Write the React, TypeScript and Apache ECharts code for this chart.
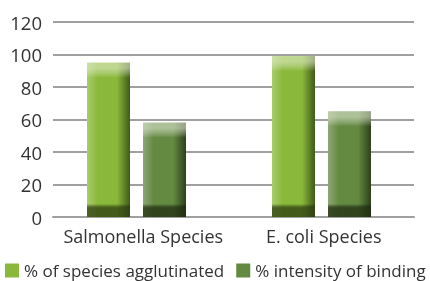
import React, { useEffect, useRef } from "react";
import * as echarts from "echarts";

const categories = ["Salmonella Species", "E. coli Species"];
const agglutinated = [95, 99];
const binding = [58, 65];
const yTicks = { min: 0, max: 120, interval: 20 };

const FONT = "'Open Sans', sans-serif";
const groupShift = [6.75, 2.25];

function makeRender(seriesIdx: number, colors: { l: string; m: string; r: string; cap: string; base: string }) {
  return (params: any, api: any) => {
    const idx = api.value(0);
    const val = api.value(1);
    const top = api.coord([idx, val]);
    const base = api.coord([idx, 0]);
    const bw = 43;
    const gap = 13;
    const cx = top[0] - groupShift[idx];
    const x = seriesIdx === 0 ? cx - gap / 2 - bw : cx + gap / 2;
    const h = base[1] - top[1];
    return {
      type: "group",
      children: [
        {
          type: "rect",
          shape: { x, y: top[1], width: bw, height: h },
          style: {
            fill: new echarts.graphic.LinearGradient(0, 0, 1, 0, [
              { offset: 0, color: colors.l },
              { offset: 0.25, color: colors.m },
              { offset: 0.7, color: colors.m },
              { offset: 1, color: colors.r },
            ]),
          },
        },
        {
          type: "rect",
          shape: { x, y: top[1], width: bw, height: 15 },
          style: {
            fill: new echarts.graphic.LinearGradient(0, 0, 0, 1, [
              { offset: 0, color: colors.cap },
              { offset: 0.35, color: colors.cap },
              { offset: 1, color: "rgba(255,255,255,0)" },
            ]),
            opacity: 0.6,
          },
        },
        {
          type: "rect",
          shape: { x, y: base[1] - 13, width: bw, height: 13 },
          style: {
            fill: new echarts.graphic.LinearGradient(0, 0, 0, 1, [
              { offset: 0, color: "rgba(0,0,0,0)" },
              { offset: 0.3, color: colors.base },
              { offset: 1, color: colors.base },
            ]),
            opacity: 0.75,
          },
        },
      ],
    };
  };
}

export default function App() {
  const ref = useRef<HTMLDivElement>(null);
  useEffect(() => {
    if (!ref.current) return;
    const chart = echarts.init(ref.current, undefined, { renderer: "svg" });
    chart.setOption({
      animation: false,
      grid: { left: 53, right: 16, top: 22, bottom: 64 },
      legend: {
        left: 5,
        top: 262,
        padding: 0,
        itemWidth: 14,
        itemHeight: 14,
        itemGap: 12,
        icon: "rect",
        textStyle: { fontFamily: FONT, fontSize: 17, lineHeight: 15, color: "#333" },
        data: ["% of species agglutinated", "% intensity of binding"],
      },
      xAxis: {
        type: "category",
        data: categories,
        axisTick: { show: false },
        axisLine: { lineStyle: { color: "#a0a0a0", width: 2 } },
        axisLabel: { fontFamily: FONT, fontSize: 18, color: "#333", margin: 10, interval: 0 },
      },
      yAxis: {
        type: "value",
        min: yTicks.min,
        max: yTicks.max,
        interval: yTicks.interval,
        axisLine: { show: false },
        axisTick: { show: false },
        splitLine: { lineStyle: { color: "#a0a0a0", width: 2 } },
        axisLabel: { fontFamily: FONT, fontSize: 18.5, color: "#333", margin: 11 },
      },
      series: [
        {
          name: "% of species agglutinated",
          type: "custom",
          itemStyle: { color: "#8ab83a" },
          encode: { x: 0, y: 1 },
          data: agglutinated.map((v, i) => [i, v]),
          renderItem: makeRender(0, { l: "#a9cd6c", m: "#8ab83a", r: "#3f5a18", cap: "#e2eccb", base: "#2c3c10" }),
        },
        {
          name: "% intensity of binding",
          type: "custom",
          itemStyle: { color: "#648a42" },
          encode: { x: 0, y: 1 },
          data: binding.map((v, i) => [i, v]),
          renderItem: makeRender(1, { l: "#8ea674", m: "#648a42", r: "#2d401a", cap: "#dfe6d2", base: "#1f2c10" }),
        },
      ],
    });
    return () => chart.dispose();
  }, []);
  return <div ref={ref} style={{ position: "fixed", left: 0, top: 0, width: 430, height: 281 }} />;
}
